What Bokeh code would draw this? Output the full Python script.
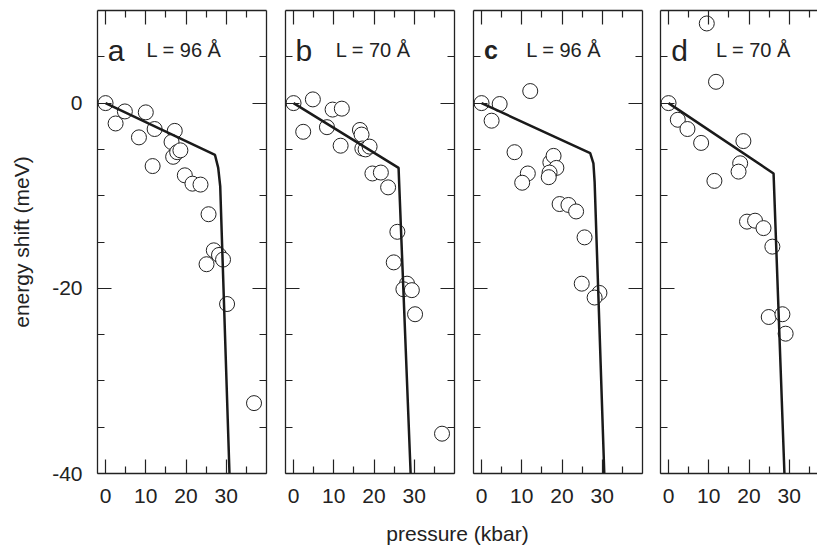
from bokeh.plotting import figure
from bokeh.layouts import row, column
from bokeh.models import (LinearAxis, FixedTicker, Range1d, Label,
                          CustomJSTickFormatter)
from bokeh.embed import file_html
from bokeh.resources import INLINE

# ---------------- data ----------------
# panel a, L = 96 Å
pa_x = [0, 2.5, 4.8, 8.3, 10.0, 12.2, 11.7, 17.2, 16.4, 16.8, 17.8, 18.6, 19.7, 21.6, 23.6, 25.6, 26.9, 28.2, 25.1, 29.2, 30.2, 36.9]
pa_y = [0, -2.2, -0.9, -3.7, -1.0, -2.8, -6.8, -3.0, -4.2, -5.8, -5.3, -5.1, -7.8, -8.7, -8.8, -12.0, -15.9, -16.4, -17.4, -16.9, -21.7, -32.4]
la_x = [0, 27.2, 28.0, 28.5, 30.8]
la_y = [0, -5.6, -7.0, -9.0, -40]

# panel b, L = 70 Å
pb_x = [0, 2.4, 4.8, 9.7, 12.0, 8.3, 11.7, 16.5, 16.9, 17.1, 17.9, 18.9, 19.6, 21.7, 23.5, 25.8, 24.9, 28.2, 27.3, 29.4, 30.2, 36.9]
pb_y = [0, -3.1, 0.4, -0.7, -0.6, -2.6, -4.6, -2.9, -3.4, -4.9, -5.0, -4.7, -7.6, -7.5, -9.1, -13.9, -17.2, -19.5, -20.1, -20.2, -22.8, -35.7]
lb_x = [0, 26.1, 29.1]
lb_y = [0, -7.0, -40]

# panel c, L = 96 Å
pc_x = [0, 4.5, 2.5, 12.1, 8.2, 11.5, 10.1, 17.1, 17.9, 18.6, 16.9, 16.7, 19.4, 21.6, 23.5, 25.6, 24.9, 29.3, 28.1]
pc_y = [0, -0.1, -1.9, 1.3, -5.3, -7.6, -8.6, -6.4, -5.7, -7.0, -7.5, -8.0, -10.9, -11.0, -11.7, -14.5, -19.5, -20.5, -21.0]
lc_x = [0, 27.0, 27.8, 28.1, 30.5]
lc_y = [0, -5.4, -6.5, -8.5, -40]

# panel d, L = 70 Å
pd_x = [9.5, 11.8, 0, 2.3, 4.7, 8.1, 18.6, 17.8, 17.4, 11.4, 19.5, 21.5, 23.6, 25.8, 24.9, 28.3, 29.1]
pd_y = [8.6, 2.3, 0, -1.8, -2.8, -4.3, -4.1, -6.5, -7.4, -8.4, -12.8, -12.7, -13.5, -15.5, -23.1, -22.8, -24.9]
ld_x = [0, 26.1, 28.8]
ld_y = [0, -7.6, -40]

letters = ["a", "b", "c", "d"]
lengths = ["L = 96 Å", "L = 70 Å", "L = 96 Å", "L = 70 Å"]
x_label = "pressure (kbar)"
y_label = "energy shift (meV)"
x_major = [0, 10, 20, 30]
x_minor = [5, 15, 25, 35]
y_major = [-40, -20, 0]
y_minor = [-35, -30, -25, -15, -10, -5, 5]
y_tick_text = {-40: "-40", -20: "-20", 0: "0"}

FONT = "Liberation Sans"
INK = "#222222"
FRAME_H = 463
PX_PER_KBAR = 169 / 42.0


def style_axis(ax, labels):
    ax.axis_line_color = INK
    ax.axis_line_width = 1.3
    ax.major_tick_line_color = INK
    ax.minor_tick_line_color = INK
    ax.major_tick_line_width = 1.2
    ax.minor_tick_line_width = 1.2
    ax.major_tick_in = 14
    ax.major_tick_out = 0
    ax.minor_tick_in = 7
    ax.minor_tick_out = 0
    if labels:
        ax.major_label_text_font = FONT
        ax.major_label_text_font_size = "21px"
        ax.major_label_text_color = INK
        ax.major_label_standoff = 15
    else:
        ax.formatter = CustomJSTickFormatter(code="return ''")
        ax.major_label_text_font_size = "0px"
        ax.major_label_standoff = 0


def xticker():
    return FixedTicker(ticks=x_major, minor_ticks=x_minor)


def yticker():
    return FixedTicker(ticks=y_major, minor_ticks=y_minor)


def make_panel(px, py, lx, ly, letter, ltxt, frame_w, bl, br, first, has_right,
               letter_x, ltxt_x, letter_size="30px", letter_style="normal"):
    x_end = -2 + frame_w / PX_PER_KBAR
    p = figure(frame_width=frame_w, frame_height=FRAME_H,
               x_range=Range1d(-2, x_end), y_range=Range1d(-40, 10),
               output_backend="svg", toolbar_location=None,
               x_axis_location=None, y_axis_location=None,
               min_border_left=bl, min_border_right=br,
               min_border_top=10, min_border_bottom=46,
               outline_line_color=None, background_fill_color="white",
               border_fill_color="white")
    p.grid.visible = False

    bottom = LinearAxis(ticker=xticker())
    style_axis(bottom, True)
    p.add_layout(bottom, "below")

    top = LinearAxis(ticker=xticker())
    style_axis(top, False)
    p.add_layout(top, "above")

    left = LinearAxis(ticker=yticker())
    style_axis(left, first)
    if first:
        left.major_label_overrides = y_tick_text
        left.axis_label = y_label
        left.axis_label_text_font = FONT
        left.axis_label_text_font_size = "21px"
        left.axis_label_text_font_style = "normal"
        left.axis_label_text_color = INK
        left.axis_label_standoff = 16
    p.add_layout(left, "left")

    if has_right:
        right = LinearAxis(ticker=yticker())
        style_axis(right, False)
        p.add_layout(right, "right")

    p.scatter(px, py, size=15, fill_color="white", line_color=INK, line_width=1)
    p.line(lx, ly, line_width=2.5, line_color="#1a1a1a")

    p.add_layout(Label(x=letter_x, y=5.7, text=letter, text_font=FONT,
                       text_font_size=letter_size, text_font_style=letter_style,
                       text_color=INK, text_baseline="alphabetic"))
    p.add_layout(Label(x=ltxt_x, y=5.7, text=ltxt, text_font=FONT,
                       text_font_size="20px", text_color=INK,
                       text_baseline="alphabetic"))
    return p


fa = make_panel(pa_x, pa_y, la_x, la_y, letters[0], lengths[0], 169, 97, 9, True, True, 0.55, 10.2)
fb = make_panel(pb_x, pb_y, lb_x, lb_y, letters[1], lengths[1], 169, 10, 9, False, True, 0.5, 10.5)
fc = make_panel(pc_x, pc_y, lc_x, lc_y, letters[2], lengths[2], 169, 10, 9, False, True, 0.6, 11.1,
                letter_size="25px", letter_style="bold")
fd = make_panel(pd_x, pd_y, ld_x, ld_y, letters[3], lengths[3], 157, 9, 0, False, False, 0.7, 11.8)

# row height = 10 + 463 + 46 = 519; the bottom strip fills the rest up to 545
fbot = figure(width=817, height=26, output_backend="svg", toolbar_location=None,
              x_axis_location=None, y_axis_location=None, min_border=0,
              x_range=Range1d(0, 1), y_range=Range1d(0, 1),
              outline_line_color=None)
fbot.grid.visible = False
fbot.add_layout(Label(x=457, y=1, x_units="screen", y_units="screen", text=x_label,
                      text_font=FONT, text_font_size="21px", text_color=INK,
                      text_align="center", text_baseline="bottom"))

layout = column(row(fa, fb, fc, fd, spacing=0), fbot, spacing=0)

open("out.html", "w").write(file_html(layout, INLINE))
